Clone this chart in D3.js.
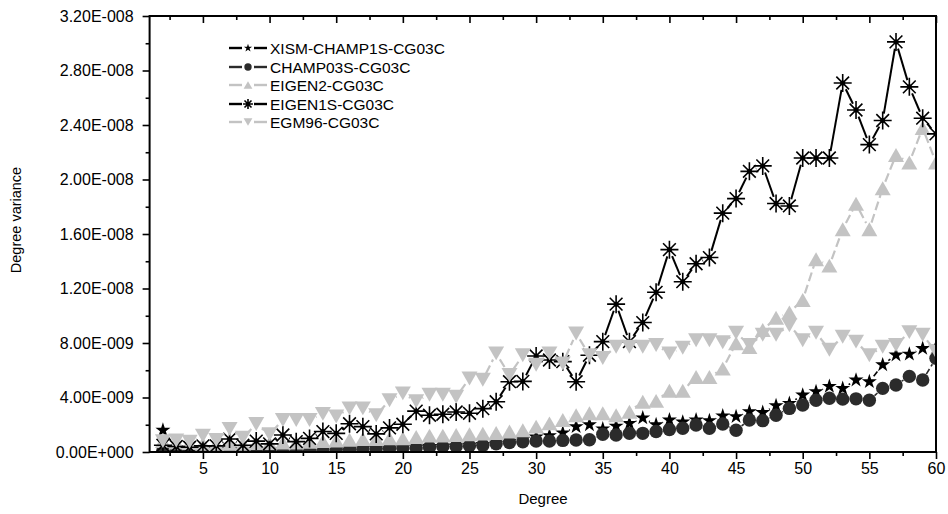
<!DOCTYPE html>
<html>
<head>
<meta charset="utf-8">
<script src="https://cdn.jsdelivr.net/npm/d3@7"></script>
<style>
  body { margin: 0; background: #fff; }
  svg { display: block; font-family: "Liberation Sans", Arial, sans-serif; }
</style>
</head>
<body>
<svg id="chart" width="948" height="514"></svg>
<script>
// degrees 2..60
const degrees = [2,3,4,5,6,7,8,9,10,11,12,13,14,15,16,17,18,19,20,21,22,23,24,25,26,27,28,29,30,31,
  32,33,34,35,36,37,38,39,40,41,42,43,44,45,46,47,48,49,50,51,52,53,54,55,56,57,58,59,60];

// degree variances, in units of 1E-009
const xismChamp1s = [1.6,0.3,0.25,0.2,0.2,0.2,0.15,0.15,0.15,0.15,0.15,0.2,0.2,0.2,0.25,0.25,0.3,0.3,0.3,0.35,
  0.4,0.4,0.45,0.5,0.55,0.65,0.8,0.9,1.1,1.2,1.4,1.86,2.0,1.7,1.9,2.1,2.5,2.0,2.35,2.2,
  2.35,2.3,2.65,2.6,2.96,2.9,3.4,3.57,4.18,4.43,4.82,4.67,5.28,5.16,6.4,7.12,7.18,7.6,7.7];
const champ03s = [0.15,0.12,0.1,0.1,0.1,0.1,0.1,0.1,0.1,0.1,0.12,0.15,0.15,0.2,0.2,0.2,0.25,0.25,0.3,0.3,
  0.35,0.4,0.4,0.45,0.5,0.6,0.7,0.75,0.8,0.8,0.85,0.88,0.9,1.3,1.25,1.37,1.37,1.5,1.65,1.74,
  1.98,1.74,2.05,1.6,2.35,2.3,2.7,3.2,3.45,3.8,3.94,3.88,3.9,3.8,4.67,4.92,5.55,5.28,6.88];
const eigen2 = [0.8,0.7,0.65,0.6,0.6,0.6,0.6,0.65,0.65,0.7,0.7,0.75,0.8,0.85,0.9,0.95,0.95,1.0,1.0,1.1,
  1.2,1.2,1.25,1.3,1.35,1.4,1.5,1.6,1.86,2.1,2.35,2.7,2.84,2.84,2.7,2.96,3.69,3.75,4.5,4.5,
  5.5,5.5,6.12,7.98,7.7,8.95,9.85,10.25,11.15,14.15,13.68,16.35,18.22,16.35,19.36,21.8,21.25,23.78,21.25];
const eigen1s = [0.5,0.4,0.35,0.45,0.45,0.95,0.5,0.8,0.6,1.25,0.76,1.0,1.5,1.37,2.07,1.86,1.33,1.77,2.04,3.0,
  2.7,2.77,2.94,2.84,3.18,3.69,5.16,5.18,7.05,6.75,6.63,5.16,7.1,8.1,10.85,8.1,9.5,11.72,14.85,12.5,
  13.82,14.27,17.53,18.6,20.6,21.0,18.24,18.06,21.58,21.58,21.58,27.08,25.1,22.56,24.33,30.1,26.8,24.5,23.35];
const egm96 = [0.8,0.85,0.75,1.2,0.88,1.7,1.05,2.05,1.3,2.35,2.35,2.35,2.8,2.6,3.2,3.2,2.7,3.8,4.3,3.72,
  4.2,4.2,4.06,5.4,5.3,7.24,5.65,7.1,6.4,7.24,6.5,8.7,7.1,6.9,7.73,7.73,7.73,7.85,7.24,7.65,
  8.2,8.2,8.05,8.75,7.85,8.6,8.6,9.3,8.2,8.75,7.5,8.46,8.1,7.1,7.73,7.85,8.8,8.6,7.36];

const seriesNames = ["XISM-CHAMP1S-CG03C", "CHAMP03S-CG03C", "EIGEN2-CG03C", "EIGEN1S-CG03C", "EGM96-CG03C"];
const yTickValues = [0, 4e-9, 8e-9, 1.2e-8, 1.6e-8, 2.0e-8, 2.4e-8, 2.8e-8, 3.2e-8];
const xTickValues = [5, 10, 15, 20, 25, 30, 35, 40, 45, 50, 55, 60];

const svg = d3.select("#chart");
const plot = {left: 149.6, right: 936, top: 16, bottom: 452};

const x = d3.scaleLinear().domain([1, 60]).range([plot.left, plot.right]);
const y = d3.scaleLinear().domain([0, 3.2e-8]).range([plot.bottom, plot.top]);

const gray = "#c3c3c3";

// marker shapes
function triPath(s, down) {
    let h = s * 0.87, w = s / 2;
    return down
        ? `M${-w},${-h/2}L${w},${-h/2}L0,${h/2}Z`
        : `M0,${-h/2}L${w},${h/2}L${-w},${h/2}Z`;
}
function asteriskPath(r) {
    let q = r * 0.7071;
    return `M0,${-r}L0,${r}M${-r},0L${r},0M${-q},${-q}L${q},${q}M${-q},${q}L${q},${-q}`;
}

const series = [
    {name: seriesNames[0], values: xismChamp1s, color: "#000", dash: "6,3", width: 1.6, marker: "star"},
    {name: seriesNames[1], values: champ03s, color: "#2b2b2b", dash: "6,3", width: 1.6, marker: "circle"},
    {name: seriesNames[2], values: eigen2, color: gray, dash: "9,4", width: 2.2, marker: "up"},
    {name: seriesNames[3], values: eigen1s, color: "#000", dash: null, width: 2, marker: "asterisk"},
    {name: seriesNames[4], values: egm96, color: gray, dash: "9,4", width: 2.2, marker: "down"}
];

function drawMarker(g, type, color, scale) {
    if (type === "star") {
        g.append("path").attr("d", d3.symbol(d3.symbolStar, 70 * scale * scale)()).attr("fill", color);
    } else if (type === "circle") {
        g.append("circle").attr("r", 6.7 * scale).attr("fill", color);
    } else if (type === "up" || type === "down") {
        g.append("path").attr("d", triPath(16 * scale, type === "down")).attr("fill", color);
    } else if (type === "asterisk") {
        g.append("path").attr("d", asteriskPath(9 * scale))
            .attr("stroke", color).attr("stroke-width", 1.6).attr("fill", "none");
        g.append("circle").attr("r", 2.5 * scale).attr("fill", color);
    }
}

svg.append("defs").append("clipPath").attr("id", "plotClip")
    .append("rect")
    .attr("x", plot.left).attr("y", plot.top)
    .attr("width", plot.right - plot.left).attr("height", plot.bottom - plot.top);

let dataGroup = svg.append("g").attr("clip-path", "url(#plotClip)");

const gap = 7;
series.forEach(s => {
    let pts = degrees.map((d, i) => [x(d), y(s.values[i] * 1e-9)]);
    let segs = [];
    for (let i = 0; i < pts.length - 1; i++) {
        let [x1, y1] = pts[i], [x2, y2] = pts[i + 1];
        let len = Math.hypot(x2 - x1, y2 - y1);
        if (len <= 2 * gap) continue;
        let ux = (x2 - x1) / len, uy = (y2 - y1) / len;
        segs.push([x1 + ux * gap, y1 + uy * gap, x2 - ux * gap, y2 - uy * gap]);
    }
    let sg = dataGroup.append("g").attr("class", "series");
    sg.selectAll("line")
        .data(segs)
        .enter()
        .append("line")
        .attr("x1", d => d[0]).attr("y1", d => d[1])
        .attr("x2", d => d[2]).attr("y2", d => d[3])
        .attr("stroke", s.color)
        .attr("stroke-width", s.width)
        .attr("stroke-dasharray", s.dash);
    sg.selectAll("g.pt")
        .data(pts)
        .enter()
        .append("g")
        .attr("class", "pt")
        .attr("transform", d => `translate(${d[0]},${d[1]})`)
        .each(function () { drawMarker(d3.select(this), s.marker, s.color, 1); });
});

// axes
function sciFormat(v) {
    if (v === 0) return "0.00E+000";
    let e = Math.floor(Math.log10(v) + 1e-9);
    let m = v / Math.pow(10, e);
    return m.toFixed(2) + "E" + (e < 0 ? "-" : "+") + String(Math.abs(e)).padStart(3, "0");
}

const minorY = [2e-9, 6e-9, 1e-8, 1.4e-8, 1.8e-8, 2.2e-8, 2.6e-8, 3.0e-8];
const minorX = [2.5, 7.5, 12.5, 17.5, 22.5, 27.5, 32.5, 37.5, 42.5, 47.5, 52.5, 57.5];

function styleAxis(g) {
    g.select(".domain").remove();
    g.selectAll("line").attr("stroke", "#000").attr("stroke-width", 1.6);
    g.selectAll("text").attr("fill", "#000").attr("font-size", 16)
        .attr("font-family", "Liberation Sans, Arial, sans-serif");
}

svg.append("g").attr("transform", `translate(${plot.left},0)`)
    .call(d3.axisLeft(y).tickValues(yTickValues).tickSize(7).tickPadding(9).tickFormat(sciFormat))
    .call(styleAxis);
svg.append("g").attr("transform", `translate(${plot.left},0)`)
    .call(d3.axisLeft(y).tickValues(minorY).tickSize(4).tickFormat(""))
    .call(styleAxis);

svg.append("g").attr("transform", `translate(0,${plot.bottom})`)
    .call(d3.axisBottom(x).tickValues(xTickValues).tickSize(7).tickPadding(4).tickFormat(d3.format("d")))
    .call(styleAxis);
svg.append("g").attr("transform", `translate(0,${plot.bottom})`)
    .call(d3.axisBottom(x).tickValues(minorX).tickSize(4).tickFormat(""))
    .call(styleAxis);

// top axis, ticks pointing in
svg.append("g").attr("transform", `translate(0,${plot.top})`)
    .call(d3.axisTop(x).tickValues(xTickValues).tickSize(-7).tickFormat(""))
    .call(styleAxis);
svg.append("g").attr("transform", `translate(0,${plot.top})`)
    .call(d3.axisTop(x).tickValues(minorX).tickSize(-4).tickFormat(""))
    .call(styleAxis);

// frame
svg.append("rect")
    .attr("x", plot.left).attr("y", plot.top)
    .attr("width", plot.right - plot.left).attr("height", plot.bottom - plot.top)
    .attr("fill", "none").attr("stroke", "#000").attr("stroke-width", 2);

// axis titles
svg.append("text")
    .attr("transform", `translate(21,220) rotate(-90)`)
    .attr("text-anchor", "middle")
    .attr("font-size", 14.5)
    .text("Degree variance");

svg.append("text")
    .attr("x", 543).attr("y", 504)
    .attr("text-anchor", "middle")
    .attr("font-size", 15)
    .text("Degree");

// legend
let legend = svg.append("g").attr("class", "legend");
const legendRows = [48, 67, 85, 104, 122];
series.forEach((s, i) => {
    let ly = legendRows[i];
    let row = legend.append("g").attr("transform", `translate(0,${ly})`);
    row.append("line").attr("x1", 229).attr("x2", 242).attr("y1", 0).attr("y2", 0)
        .attr("stroke", s.color).attr("stroke-width", 2.4);
    row.append("line").attr("x1", 254).attr("x2", 267).attr("y1", 0).attr("y2", 0)
        .attr("stroke", s.color).attr("stroke-width", 2.4);
    let m = row.append("g").attr("transform", "translate(248,0)");
    drawMarker(m, s.marker, s.color, 0.55);
    row.append("text").attr("x", 270).attr("y", 0).attr("dy", "0.36em")
        .attr("font-size", 15.5).attr("fill", "#000")
        .text(s.name);
});
</script>
</body>
</html>
